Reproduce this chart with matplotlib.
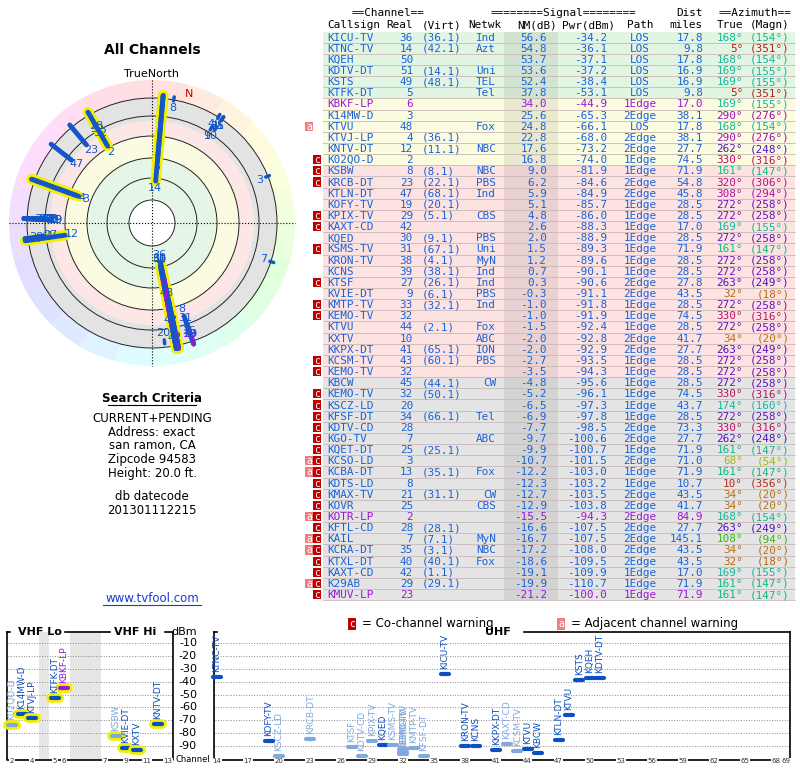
import numpy as np
import matplotlib
matplotlib.use('Agg')
from matplotlib import pyplot as plt
from matplotlib import colors as mcolors
from matplotlib.patches import Rectangle, Wedge, Circle

# ---- station table ----
callsigns = ['KICU-TV', 'KTNC-TV', 'KQEH', 'KDTV-DT', 'KSTS', 'KTFK-DT', 'KBKF-LP', 'K14MW-D',
             'KTVU', 'KTVJ-LP', 'KNTV-DT', 'K02QO-D', 'KSBW', 'KRCB-DT', 'KTLN-DT', 'KOFY-TV',
             'KPIX-TV', 'KAXT-CD', 'KQED', 'KSMS-TV', 'KRON-TV', 'KCNS', 'KTSF', 'KVIE-DT',
             'KMTP-TV', 'KEMO-TV', 'KTVU', 'KXTV', 'KKPX-DT', 'KCSM-TV', 'KEMO-TV', 'KBCW',
             'KEMO-TV', 'KSCZ-LD', 'KFSF-DT', 'KDTV-CD', 'KGO-TV', 'KQET-DT', 'KCSO-LD', 'KCBA-DT',
             'KDTS-LD', 'KMAX-TV', 'KOVR', 'KOTR-LP', 'KFTL-CD', 'KAIL', 'KCRA-DT', 'KTXL-DT',
             'KAXT-CD', 'K29AB', 'KMUV-LP']
real_ch = [36, 14, 50, 51, 49, 5, 6, 3, 48, 4, 12, 2, 8, 23, 47, 19, 29, 42, 30, 31, 38, 39, 27, 9,
           33, 32, 44, 10, 41, 43, 32, 45, 32, 20, 34, 28, 7, 25, 3, 13, 8, 21, 25, 2, 28, 7, 35, 40,
           42, 29, 23]
virt_ch = ['(36.1)', '(42.1)', '', '(14.1)', '(48.1)', '', '', '', '', '(36.1)', '(11.1)', '',
           '(8.1)', '(22.1)', '(68.1)', '(20.1)', '(5.1)', '', '(9.1)', '(67.1)', '(4.1)', '(38.1)',
           '(26.1)', '(6.1)', '(32.1)', '', '(2.1)', '', '(65.1)', '(60.1)', '', '(44.1)', '(50.1)',
           '', '(66.1)', '', '', '(25.1)', '', '(35.1)', '', '(31.1)', '', '', '(28.1)', '(7.1)',
           '(3.1)', '(40.1)', '(1.1)', '(29.1)', '']
networks = ['Ind', 'Azt', '', 'Uni', 'TEL', 'Tel', '', '', 'Fox', '', 'NBC', '', 'NBC', 'PBS', 'Ind',
            '', 'CBS', '', 'PBS', 'Uni', 'MyN', 'Ind', 'Ind', 'PBS', 'Ind', '', 'Fox', 'ABC', 'ION',
            'PBS', '', 'CW', '', '', 'Tel', '', 'ABC', '', '', 'Fox', '', 'CW', 'CBS', '', '', 'MyN',
            'NBC', 'Fox', '', '', '']
nm_db = [56.6, 54.8, 53.7, 53.6, 52.4, 37.8, 34.0, 25.6, 24.8, 22.8, 17.6, 16.8, 9.0, 6.2, 5.9, 5.1,
         4.8, 2.6, 2.0, 1.5, 1.2, 0.7, 0.3, -0.3, -1.0, -1.0, -1.5, -2.0, -2.0, -2.7, -3.5, -4.8,
         -5.2, -6.5, -6.9, -7.7, -9.7, -9.9, -10.7, -12.2, -12.3, -12.7, -12.9, -15.5, -16.6, -16.7,
         -17.2, -18.6, -19.1, -19.9, -21.2]
pwr_dbm = [-34.2, -36.1, -37.1, -37.2, -38.4, -53.1, -44.9, -65.3, -66.1, -68.0, -73.2, -74.0,
           -81.9, -84.6, -84.9, -85.7, -86.0, -88.3, -88.9, -89.3, -89.6, -90.1, -90.6, -91.1,
           -91.8, -91.9, -92.4, -92.8, -92.9, -93.5, -94.3, -95.6, -96.1, -97.3, -97.8, -98.5,
           -100.6, -100.7, -101.5, -103.0, -103.2, -103.5, -103.8, -94.3, -107.5, -107.5, -108.0,
           -109.5, -109.9, -110.7, -100.0]
paths = ['LOS'] * 6 + ['1Edge', '2Edge', 'LOS', '2Edge', '2Edge', '1Edge', '1Edge', '2Edge',
                       '2Edge', '1Edge', '1Edge', '1Edge', '1Edge', '1Edge', '1Edge', '1Edge',
                       '2Edge', '2Edge', '1Edge', '1Edge', '1Edge', '2Edge', '2Edge', '1Edge',
                       '1Edge', '1Edge', '1Edge', '1Edge', '1Edge', '2Edge', '2Edge', '1Edge',
                       '2Edge', '1Edge', '1Edge', '2Edge', '2Edge', '2Edge', '2Edge', '2Edge',
                       '2Edge', '2Edge', '1Edge', '1Edge', '1Edge']
dist_mi = [17.8, 9.8, 17.8, 16.9, 16.9, 9.8, 17.0, 38.1, 17.8, 38.1, 27.7, 74.5, 71.9, 54.8, 45.8,
           28.5, 28.5, 17.0, 28.5, 71.9, 28.5, 28.5, 27.8, 43.5, 28.5, 74.5, 28.5, 41.7, 27.7,
           28.5, 28.5, 28.5, 74.5, 43.7, 28.5, 73.3, 27.7, 71.9, 71.0, 71.9, 10.7, 43.5, 41.7,
           84.9, 27.7, 145.1, 43.5, 43.5, 17.0, 71.9, 71.9]
az_true = [168, 5, 168, 169, 169, 5, 169, 290, 168, 290, 262, 330, 161, 320, 308, 272, 272, 169,
           272, 161, 272, 272, 263, 32, 272, 330, 272, 34, 263, 272, 272, 272, 330, 174, 272, 330,
           262, 161, 68, 161, 10, 34, 34, 168, 263, 108, 34, 32, 169, 161, 161]
az_magn = [154, 351, 154, 155, 155, 351, 155, 276, 154, 276, 248, 316, 147, 306, 294, 258, 258,
           155, 258, 147, 258, 258, 249, 18, 258, 316, 258, 20, 249, 258, 258, 258, 316, 160, 258,
           316, 248, 147, 54, 147, 356, 20, 20, 154, 249, 94, 20, 18, 155, 147, 147]
cochan_rows = [11, 12, 13, 16, 17, 19, 22, 24, 25, 29, 30] + list(range(32, 51))
adjchan_rows = [8, 38, 39, 43, 45, 46, 49]
lp_rows = [6, 43, 50]

W, H = 800, 768
fig = plt.figure(figsize=(8, 7.68), dpi=100)
ax = fig.add_axes([0, 0, 1, 1])
ax.set_xlim(0, W)
ax.set_ylim(H, 0)
ax.axis('off')

BLUE = '#1a62d6'
PURPLE = '#9a18d8'
MONO = 'DejaVu Sans Mono'
FS = 7.9


def az_color(a):
    return mcolors.hsv_to_rgb((a / 360.0, 0.9, 0.72))


# ---------------- table ----------------
row0, rh = 31.5, 11.15
tx = dict(call=327, real=413, virt=422, net=496, nm=547, pwr=607, path=640, dist=703, tru=743, mag=790)
ax.add_patch(Rectangle((504, row0), 54, rh * len(callsigns), fc='#000000', alpha=0.07, zorder=1))
for i, cs in enumerate(callsigns):
    y = row0 + i * rh
    nm = nm_db[i]
    bg = '#e2f5e2' if nm > 35 else '#fbfbe0' if nm > 10 else '#fde2e2' if nm > -4 else '#e4e4e4'
    ax.add_patch(Rectangle((323, y), 472, rh, fc=bg, ec='none', zorder=0))
    ax.plot([323, 795], [y + rh, y + rh], color='#c8b8b8', lw=0.6, zorder=1)
    yc = y + rh / 2 + 0.5
    col = PURPLE if i in lp_rows else BLUE
    kw = dict(fontsize=FS, family=MONO, color=col, va='center', zorder=3)
    ax.text(tx['call'], yc, cs, ha='left', **kw)
    ax.text(tx['real'], yc, str(real_ch[i]), ha='right', **kw)
    ax.text(tx['virt'], yc, virt_ch[i], ha='left', **kw)
    ax.text(tx['net'], yc, networks[i], ha='right', **kw)
    ax.text(tx['nm'], yc, f'{nm:.1f}', ha='right', **kw)
    ax.text(tx['pwr'], yc, f'{pwr_dbm[i]:.1f}', ha='right', **kw)
    ax.text(tx['path'], yc, paths[i], ha='center', **kw)
    ax.text(tx['dist'], yc, f'{dist_mi[i]:.1f}', ha='right', **kw)
    ac = az_color(az_true[i])
    ax.text(tx['tru'], yc, f'{az_true[i]}°', ha='right', fontsize=FS, family=MONO, color=ac, va='center')
    ax.text(tx['mag'], yc, f'({az_magn[i]}°)', ha='right', fontsize=FS, family=MONO, color=ac, va='center')
    if i in cochan_rows:
        ax.add_patch(Rectangle((313, y + 1), 8, rh - 2, fc='#c00000', zorder=2))
        ax.text(317, yc, 'c', color='white', fontsize=7, ha='center', va='center', family=MONO, zorder=3)
    if i in adjchan_rows:
        ax.add_patch(Rectangle((305, y + 1), 8, rh - 2, fc='#f08080', zorder=2))
        ax.text(309, yc, 'a', color='white', fontsize=7, ha='center', va='center', family=MONO, zorder=3)

hk = dict(fontsize=FS, family=MONO, color='black', va='center')
ax.text(388, 13, '==Channel==', ha='center', **hk)
ax.text(563, 13, '========Signal========', ha='center', **hk)
ax.text(703, 13, 'Dist', ha='right', **hk)
ax.text(755, 13, '==Azimuth==', ha='center', **hk)
ax.text(327, 25, 'Callsign', ha='left', **hk)
ax.text(413, 25, 'Real', ha='right', **hk)
ax.text(422, 25, '(Virt)', ha='left', **hk)
ax.text(468, 25, 'Netwk', ha='left', **hk)
ax.text(557, 25, 'NM(dB)', ha='right', **hk)
ax.text(615, 25, 'Pwr(dBm)', ha='right', **hk)
ax.text(640, 25, 'Path', ha='center', **hk)
ax.text(703, 25, 'miles', ha='right', **hk)
ax.text(743, 25, 'True', ha='right', **hk)
ax.text(790, 25, '(Magn)', ha='right', **hk)

# ---------------- polar plot ----------------
cx, cy = 152, 223
for a0 in range(0, 360, 15):
    az_mid = (a0 + 7.5 + 90) % 360
    c = mcolors.hsv_to_rgb((az_mid / 360.0, 0.13, 1.0))
    ax.add_patch(Wedge((cx, cy), 143, a0, a0 + 15, width=19, fc=c, ec='none', zorder=0))
for r, c in [(125, '#e3e3e3'), (102, '#fde6e6'), (87, '#fbfbe2'), (65, '#e6f6e6')]:
    ax.add_patch(Circle((cx, cy), r, fc=c, ec='none', zorder=0))
ax.add_patch(Circle((cx, cy), 23, fc='white', ec='none', zorder=0))
for r in [23, 45, 65, 87, 107, 125]:
    ax.add_patch(Circle((cx, cy), r, fc='none', ec='#222222', lw=0.7, zorder=2))
ax.plot([cx - 143, cx + 143], [cy, cy], ls=':', color='black', lw=0.8, zorder=2)
ax.plot([cx, cx], [cy - 143, cy + 143], ls=':', color='black', lw=0.8, zorder=2)

for i in range(len(callsigns)):
    nm = nm_db[i]
    th = np.radians(az_true[i])
    r_in = min(109.5 - 1.23 * nm, 124)
    r_out = 128 if nm > 0 else r_in + 4
    xs = cx + np.array([r_in, r_out]) * np.sin(th)
    ys = cy - np.array([r_in, r_out]) * np.cos(th)
    col = PURPLE if i in lp_rows else '#1456c8'
    if nm > 10:
        ax.plot(xs, ys, color='#f0f000', lw=7.5, solid_capstyle='round', zorder=3)
    ax.plot(xs, ys, color=col, lw=3.5 if nm > 0 else 2.5, solid_capstyle='round', zorder=4)
    rl = r_in - 7
    ax.text(cx + rl * np.sin(th), cy - rl * np.cos(th), str(real_ch[i]), color=col, fontsize=8,
            ha='center', va='center', zorder=5)

ax.text(152, 50, 'All Channels', fontsize=10, weight='bold', ha='center', va='center')
ax.text(152, 74, 'TrueNorth', fontsize=8, ha='center', va='center')
ax.text(189, 94, 'N', fontsize=8, color='#cc0000', ha='center', va='center')
ax.text(152, 398, 'Search Criteria', fontsize=8.5, weight='bold', ha='center', va='center')
ax.plot([108, 196], [405, 405], color='black', lw=0.8)
for k, s in enumerate(['CURRENT+PENDING', 'Address: exact', 'san ramon, CA', 'Zipcode 94583',
                       'Height: 20.0 ft.']):
    ax.text(152, 418 + 14 * k, s, fontsize=8.5, ha='center', va='center')
ax.text(152, 497, 'db datecode', fontsize=8.5, ha='center', va='center')
ax.text(152, 511, '201301112215', fontsize=8.5, ha='center', va='center')
ax.text(152, 598, 'www.tvfool.com', fontsize=8.5, color='#1a3ad6', ha='center', va='center')
ax.plot([103, 201], [605, 605], color='#1a3ad6', lw=0.8)

# ---------------- bottom spectrum ----------------
ax.add_patch(Rectangle((348, 618), 8, 12, fc='#c00000'))
ax.text(352, 624, 'c', color='white', fontsize=7, ha='center', va='center', family=MONO)
ax.text(362, 624, '= Co-channel warning', fontsize=8.5, va='center')
ax.add_patch(Rectangle((557, 618), 8, 12, fc='#f08080'))
ax.text(561, 624, 'a', color='white', fontsize=7, ha='center', va='center', family=MONO)
ax.text(571, 624, '= Adjacent channel warning', fontsize=8.5, va='center')


def y_dbm(d):
    return 630 - 1.29 * max(d, -98)


def ch_x(ch):
    if ch <= 4:
        return 12 + (ch - 2) * 10
    if ch <= 6:
        return 55 + (ch - 5) * 9
    if ch <= 13:
        return 105 + (ch - 7) * 10.5
    return 217 + (ch - 14) * 10.35


ax.add_patch(Rectangle((39, 632), 10, 128, fc='#e6e6e6', ec='none'))
ax.add_patch(Rectangle((70, 632), 31, 128, fc='#e6e6e6', ec='none'))
for d in range(-10, -100, -10):
    yy = y_dbm(d)
    ax.plot([8, 172], [yy, yy], ls=':', color='#888888', lw=0.7)
    ax.plot([215, 789], [yy, yy], ls=':', color='#888888', lw=0.7)
    ax.text(197, yy, str(d), fontsize=8, ha='right', va='center')
ax.text(197, 632, 'dBm', fontsize=8, ha='right', va='center')
ax.text(210, 760, 'Channel', fontsize=6, ha='right', va='center')
for x0, x1 in [(7, 173), (214, 790)]:
    ax.plot([x0, x0, x1, x1], [632, 760, 760, 632], color='black', lw=1.2)
    ax.plot([x0, x0 + 3], [632, 632], color='black', lw=1.2)
ax.plot([65, 110], [632, 632], color='black', lw=1.2)
ax.plot([165, 173], [632, 632], color='black', lw=1.2)
ax.plot([524, 790], [632, 632], color='black', lw=1.2)
ax.text(40, 632, 'VHF Lo', fontsize=8, weight='bold', ha='center', va='center')
ax.text(135, 632, 'VHF Hi', fontsize=8, weight='bold', ha='center', va='center')
ax.text(498, 632, 'UHF', fontsize=8, weight='bold', ha='center', va='center')
for ch in [2, 4, 5, 6, 7, 9, 11, 13] + list(range(14, 70, 3)) + [69]:
    ax.text(ch_x(ch), 761, str(ch), fontsize=5, ha='center', va='center', color='#333333',
            bbox=dict(fc='white', ec='none', pad=0.3))

for i in range(len(callsigns)):
    ch = real_ch[i]
    if pwr_dbm[i] < -100 or nm_db[i] < -11:
        continue
    xx, yy = ch_x(ch), y_dbm(pwr_dbm[i])
    if i in lp_rows:
        col = PURPLE
    elif i in cochan_rows:
        col = '#82a8e0'
    else:
        col = '#0b4fc0'
    if ch <= 13 and nm_db[i] > -3:
        ax.plot([xx - 4, xx + 4], [yy, yy], color='#f0f000', lw=7, solid_capstyle='round')
    ax.plot([xx - 4, xx + 4], [yy, yy], color=col, lw=3, solid_capstyle='round')
    ax.text(xx, yy - 5, callsigns[i], rotation=90, fontsize=6.5, color=col, ha='center',
            va='bottom')

fig.savefig('out.png', dpi=100)
